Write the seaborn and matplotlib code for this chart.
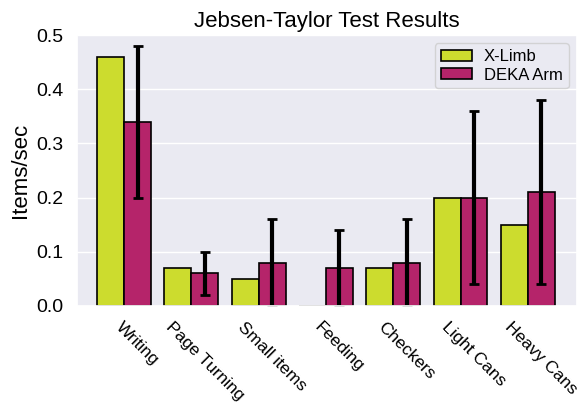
import numpy as np
import pandas as pd
import matplotlib
matplotlib.use("Agg")
import matplotlib.pyplot as plt
import seaborn as sns

tasks = ['Writing', 'Page Turning', 'Small items', 'Feeding', 'Checkers', 'Light Cans', 'Heavy Cans']
xlimb = [0.46, 0.07, 0.05, 0.0, 0.07, 0.20, 0.15]
deka = [0.34, 0.06, 0.08, 0.07, 0.08, 0.20, 0.21]
deka_err = [0.14, 0.04, 0.08, 0.07, 0.08, 0.16, 0.17]
devices = ['X-Limb', 'DEKA Arm']
colors = ['#CCDC2E', '#B5246A']

sns.set_theme(style="darkgrid")
plt.rcParams['font.family'] = ['Liberation Sans', 'DejaVu Sans']
plt.rcParams.update({'text.color': 'black', 'axes.labelcolor': 'black',
                     'xtick.color': 'black', 'ytick.color': 'black'})

df = pd.DataFrame({
    'Task': tasks * 2,
    'Items/sec': xlimb + deka,
    'Device': [devices[0]] * len(tasks) + [devices[1]] * len(tasks),
})

fig = plt.figure(figsize=(5.81, 4.04), dpi=100)
ax = fig.add_axes([0.1325, 0.2426, 0.8605, 0.6704])

sns.barplot(data=df, x='Task', y='Items/sec', hue='Device', palette=colors,
            saturation=1, edgecolor='black', linewidth=1.2, errorbar=None, ax=ax)

# error bars on the DEKA bars
deka_bars = ax.containers[1]
xs = [b.get_x() + b.get_width() / 2 for b in deka_bars]
ax.errorbar(xs, deka, yerr=deka_err, fmt='none', ecolor='black',
            elinewidth=3, capsize=3.5, capthick=2)

ax.set_xticks(np.array(xs))
ax.set_xticklabels(tasks, rotation=-45, fontsize=12.5)
ax.set_xlim(-0.7, 6.73)
ax.set_ylim(0, 0.5)
ax.set_yticks([0.0, 0.1, 0.2, 0.3, 0.4, 0.5])
ax.set_yticklabels(['0.0', '0.1', '0.2', '0.3', '0.4', '0.5'], fontsize=14)
ax.set_xlabel('')
ax.set_ylabel('Items/sec', fontsize=16)
ax.set_title('Jebsen-Taylor Test Results', fontsize=16)
ax.legend(loc='upper right', frameon=True, fontsize=12, labelspacing=0.2,
          handlelength=1.9, handleheight=0.6, handletextpad=0.7,
          borderpad=0.35, borderaxespad=0.5)

fig.savefig('out.png', dpi=100)
